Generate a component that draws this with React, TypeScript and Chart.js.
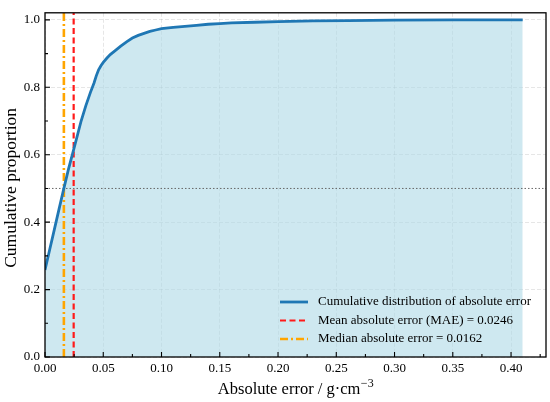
import React, { useEffect, useRef } from "react";
import { Chart, registerables } from "chart.js";

Chart.register(...registerables);

// ---- data ----
const ERR_X = [
  0, 0.004, 0.008, 0.012, 0.0162, 0.02, 0.0246, 0.028, 0.031, 0.035, 0.039, 0.042,
  0.044, 0.046, 0.048, 0.05, 0.053, 0.056, 0.06, 0.065, 0.07, 0.075, 0.08, 0.085,
  0.09, 0.095, 0.1, 0.11, 0.12, 0.13, 0.14, 0.15, 0.16, 0.18, 0.2, 0.23, 0.26,
  0.3, 0.35, 0.41,
];
const CUM_Y = [
  0.258, 0.318, 0.378, 0.438, 0.5, 0.555, 0.615, 0.66, 0.7, 0.745, 0.785, 0.812,
  0.834, 0.852, 0.864, 0.874, 0.886, 0.897, 0.908, 0.922, 0.935, 0.946, 0.954, 0.96,
  0.966, 0.97, 0.974, 0.978, 0.981, 0.984, 0.987, 0.989, 0.991, 0.993, 0.995, 0.997,
  0.998, 0.999, 1.0, 1.0,
];
const MAE = 0.0246;
const MEDIAN = 0.0162;
const REF_Y = 0.5;

const X_MIN = 0;
const X_MAX = 0.43;
const Y_MIN = 0;
const Y_MAX = 1.021;

const X_TICKS = [0, 0.05, 0.1, 0.15, 0.2, 0.25, 0.3, 0.35, 0.4];
const X_MINOR = [0.025, 0.075, 0.125, 0.175, 0.225, 0.275, 0.325, 0.375, 0.425];
const Y_TICKS = [0, 0.2, 0.4, 0.6, 0.8, 1.0];
const Y_MINOR = [0.1, 0.3, 0.5, 0.7, 0.9];

const LEGEND_LABELS = [
  "Cumulative distribution of absolute error",
  "Mean absolute error (MAE) = 0.0246",
  "Median absolute error = 0.0162",
];
const X_TITLE = "Absolute error / g·cm";
const X_TITLE_SUP = "−3";
const Y_TITLE = "Cumulative proportion";

const FONT = "'Liberation Serif', 'Times New Roman', serif";

const decorPlugin = {
  id: "decor",
  afterDraw(chart: any) {
    const { ctx, chartArea, scales } = chart;
    const xs = scales.x;
    const ys = scales.y;
    ctx.save();
    // frame
    ctx.strokeStyle = "#000";
    ctx.lineWidth = 1.3;
    ctx.setLineDash([]);
    ctx.strokeRect(chartArea.left, chartArea.top, chartArea.right - chartArea.left, chartArea.bottom - chartArea.top);
    // ticks (inward)
    ctx.lineWidth = 1.1;
    ctx.beginPath();
    X_TICKS.forEach((v) => {
      const px = xs.getPixelForValue(v);
      ctx.moveTo(px, chartArea.bottom);
      ctx.lineTo(px, chartArea.bottom - 5);
    });
    X_MINOR.forEach((v) => {
      const px = xs.getPixelForValue(v);
      ctx.moveTo(px, chartArea.bottom);
      ctx.lineTo(px, chartArea.bottom - 3);
    });
    Y_TICKS.forEach((v) => {
      const py = ys.getPixelForValue(v);
      ctx.moveTo(chartArea.left, py);
      ctx.lineTo(chartArea.left + 5, py);
    });
    Y_MINOR.forEach((v) => {
      const py = ys.getPixelForValue(v);
      ctx.moveTo(chartArea.left, py);
      ctx.lineTo(chartArea.left + 3, py);
    });
    ctx.stroke();

    // axis titles
    ctx.fillStyle = "#000";
    ctx.font = `16.5px ${FONT}`;
    ctx.textBaseline = "alphabetic";
    const mainW = ctx.measureText(X_TITLE).width;
    ctx.font = `12px ${FONT}`;
    const supW = ctx.measureText(X_TITLE_SUP).width;
    const cx = (chartArea.left + chartArea.right) / 2;
    const startX = cx - (mainW + supW) / 2;
    ctx.font = `16.5px ${FONT}`;
    ctx.textAlign = "left";
    ctx.fillText(X_TITLE, startX, 394);
    ctx.font = `12px ${FONT}`;
    ctx.fillText(X_TITLE_SUP, startX + mainW + 0.5, 387);

    ctx.save();
    ctx.translate(11, (chartArea.top + chartArea.bottom) / 2 + 3);
    ctx.rotate(-Math.PI / 2);
    ctx.font = `17.5px ${FONT}`;
    ctx.textAlign = "center";
    ctx.textBaseline = "middle";
    ctx.fillText(Y_TITLE, 0, 0);
    ctx.restore();

    // legend
    const ds = chart.data.datasets;
    const rowsY = [302, 320.5, 339];
    ctx.font = `13px ${FONT}`;
    ctx.textAlign = "left";
    ctx.textBaseline = "middle";
    LEGEND_LABELS.forEach((label, i) => {
      const d = ds[i];
      const y = rowsY[i];
      ctx.beginPath();
      ctx.strokeStyle = d.borderColor;
      ctx.lineWidth = d.borderWidth;
      ctx.setLineDash(d.borderDash || []);
      ctx.moveTo(280, y);
      ctx.lineTo(308, y);
      ctx.stroke();
      ctx.setLineDash([]);
      ctx.fillStyle = "#000";
      ctx.fillText(label, 318, y);
    });
    ctx.restore();
  },
};

export default function App() {
  const ref = useRef<HTMLCanvasElement | null>(null);
  useEffect(() => {
    document.body.style.margin = "0";
    const canvas = ref.current;
    if (!canvas) return;
    const chart = new Chart(canvas, {
      type: "line",
      data: {
        datasets: [
          {
            label: LEGEND_LABELS[0],
            data: ERR_X.map((x, i) => ({ x, y: CUM_Y[i] })),
            borderColor: "#1f77b4",
            borderWidth: 2.8,
            backgroundColor: "rgba(173,216,230,0.6)",
            fill: "origin",
            pointRadius: 0,
            tension: 0,
            order: 0,
          },
          {
            label: LEGEND_LABELS[1],
            data: [
              { x: MAE, y: Y_MIN },
              { x: MAE, y: Y_MAX },
            ],
            borderColor: "#ff1a1a",
            borderWidth: 2.2,
            borderDash: [6, 3.5],
            pointRadius: 0,
            fill: false,
            order: 1,
          },
          {
            label: LEGEND_LABELS[2],
            data: [
              { x: MEDIAN, y: Y_MIN },
              { x: MEDIAN, y: Y_MAX },
            ],
            borderColor: "#ffa500",
            borderWidth: 2.6,
            borderDash: [8, 3, 2, 3],
            pointRadius: 0,
            fill: false,
            order: 2,
          },
          {
            label: "ref",
            data: [
              { x: X_MIN, y: REF_Y },
              { x: X_MAX, y: REF_Y },
            ],
            borderColor: "#666",
            borderWidth: 1,
            borderDash: [1.5, 2],
            pointRadius: 0,
            fill: false,
            order: 3,
          },
        ],
      },
      options: {
        animation: false,
        responsive: true,
        maintainAspectRatio: false,
        layout: { padding: { left: 0, top: 5, right: 4, bottom: 0 } },
        plugins: {
          legend: { display: false },
          tooltip: { enabled: false },
          filler: { drawTime: "beforeDatasetsDraw" },
        },
        scales: {
          x: {
            type: "linear",
            min: X_MIN,
            max: X_MAX,
            afterBuildTicks: (s: any) => {
              s.ticks = X_TICKS.map((v) => ({ value: v }));
            },
            afterFit: (s: any) => {
              s.height = 45;
            },
            ticks: {
              callback: (v: any) => Number(v).toFixed(2),
              font: { family: FONT, size: 13 },
              color: "#000",
              padding: 4,
              maxRotation: 0,
              autoSkip: false,
            },
            grid: {
              color: "rgba(128,128,128,0.25)",
              lineWidth: 0.8,
              drawTicks: false,
            },
            border: { display: false, dash: [4, 2] },
          },
          y: {
            type: "linear",
            min: Y_MIN,
            max: Y_MAX,
            afterBuildTicks: (s: any) => {
              s.ticks = Y_TICKS.map((v) => ({ value: v }));
            },
            afterFit: (s: any) => {
              s.width = 45;
            },
            ticks: {
              callback: (v: any) => Number(v).toFixed(1),
              font: { family: FONT, size: 13 },
              color: "#000",
              padding: 5,
              autoSkip: false,
            },
            grid: {
              color: "rgba(128,128,128,0.25)",
              lineWidth: 0.8,
              drawTicks: false,
            },
            border: { display: false, dash: [4, 2] },
          },
        },
      },
      plugins: [decorPlugin],
    } as any);
    return () => chart.destroy();
  }, []);
  return (
    <div style={{ position: "relative", width: 550, height: 402 }}>
      <canvas ref={ref} />
    </div>
  );
}
